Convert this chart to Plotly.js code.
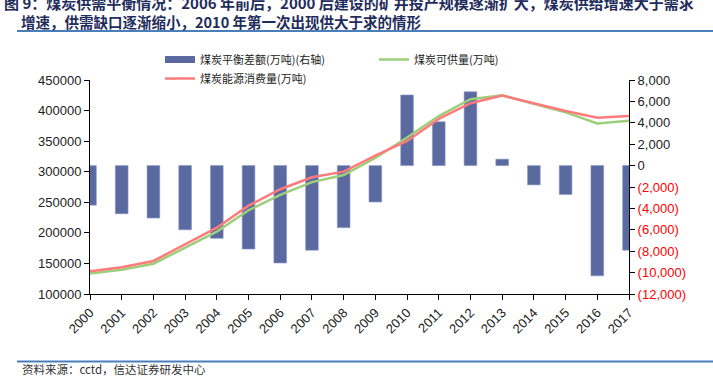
<!DOCTYPE html>
<html>
<head>
<meta charset="utf-8">
<script src="https://cdn.plot.ly/plotly-3.0.1.min.js"></script>
<style>html,body{margin:0;padding:0;background:#fff;}#chart{width:713px;height:376px;}</style>
</head>
<body>
<div id="chart"></div>
<script>
// ---- data ----
const years = [2000,2001,2002,2003,2004,2005,2006,2007,2008,2009,2010,2011,2012,2013,2014,2015,2016,2017];
const balance = [-3700,-4500,-4900,-6000,-6800,-7800,-9100,-7900,-5800,-3400,6600,4100,6900,600,-1800,-2700,-10300,-7900];
const supply = [133500,139500,149500,175800,202000,237000,262200,283000,294500,322500,356000,391000,418500,425000,410500,397000,379000,383300];
const consumption = [137000,143700,154000,181300,208500,244500,271300,290900,300100,326300,350300,386300,412000,424400,412000,399400,388400,391200];
const leftTicks = [100000,150000,200000,250000,300000,350000,400000,450000];
const rightTicks = [-12000,-10000,-8000,-6000,-4000,-2000,0,2000,4000,6000,8000];
const rightTickText = ['(12,000)','(10,000)','(8,000)','(6,000)','(4,000)','(2,000)','0','2,000','4,000','6,000','8,000'];
const names = {bal:'煤炭平衡差额(万吨)(右轴)', sup:'煤炭可供量(万吨)', con:'煤炭能源消费量(万吨)'};
const titleLine1 = '图 9：煤炭供需平衡情况：2006 年前后，2000 后建设的矿井投产规模逐渐扩大，煤炭供给增速大于需求';
const titleLine2 = '增速，供需缺口逐渐缩小，2010 年第一次出现供大于求的情形';
const source = '资料来源：cctd，信达证券研发中心';

const barColor = '#5a6aa0', greenColor = '#9dcf7a', redColor = '#ff7b7b';
const FONT = 'Liberation Sans, Arial, Noto Sans CJK SC, sans-serif';
const CJK = 'Noto Sans CJK SC, sans-serif';

const W = 713, H = 376, L = 90, R = 84, T = 80, B = 82;
const pw = W - L - R, ph = H - T - B;
const px = x => (x - L) / pw;
const py = y => (H - B - y) / ph;

const rightTickLabels = rightTickText.map((t, i) => rightTicks[i] < 0 ? '<span style="color:#ff0000">' + t + '</span>' : t);

const traces = [
  {type:'bar', x:years, y:balance, yaxis:'y', width:0.4, showlegend:false, name:names.bal,
   marker:{color:barColor, line:{color:'#8a96c4', width:0.6}}},
  {type:'scatter', mode:'lines', x:[null], y:[null], yaxis:'y', name:names.bal, legend:'legend',
   line:{color:barColor, width:7}},
  {type:'scatter', mode:'lines', x:years, y:supply, yaxis:'y2', name:names.sup, legend:'legend',
   line:{color:greenColor, width:2.5}},
  {type:'scatter', mode:'lines', x:years, y:consumption, yaxis:'y2', name:names.con, legend:'legend2',
   line:{color:redColor, width:2.5}}
];

const layout = {
  width: W, height: H,
  margin:{l:L, r:R, t:T, b:B, pad:0},
  paper_bgcolor:'#fff', plot_bgcolor:'#fff',
  font:{family:FONT, size:13, color:'#222'},
  showlegend:true,
  bargap:0,
  xaxis:{range:[2000,2017], tickvals:years, ticktext:years.map(String), tickangle:-45,
    showgrid:false, zeroline:false, showline:true, linecolor:'#000', linewidth:1,
    ticks:'outside', ticklen:5, tickcolor:'#000', tickfont:{size:13, family:FONT, color:'#222'}},
  yaxis:{side:'right', range:[-12000,8000], tickvals:rightTicks, ticktext:rightTickLabels,
    showgrid:false, zeroline:false, showline:true, linecolor:'#000', linewidth:1,
    ticks:'outside', ticklen:5, tickcolor:'#000', tickfont:{size:13, family:FONT, color:'#222'}},
  yaxis2:{side:'left', overlaying:'y', range:[100000,450000], tickvals:leftTicks,
    ticktext:leftTicks.map(String),
    showgrid:false, zeroline:false, showline:true, linecolor:'#000', linewidth:1,
    ticks:'outside', ticklen:5, tickcolor:'#000', tickfont:{size:13, family:FONT, color:'#222'}},
  legend:{orientation:'h', x:px(160), xanchor:'left', y:py(45), yanchor:'top',
    font:{family:CJK, size:11, color:'#222'}, entrywidth:169, bgcolor:'rgba(0,0,0,0)', itemclick:false},
  legend2:{orientation:'h', x:px(160), xanchor:'left', y:py(64), yanchor:'top',
    font:{family:CJK, size:11, color:'#222'}, bgcolor:'rgba(0,0,0,0)', itemclick:false},
  annotations:[
    {text:'<b>'+titleLine1+'</b>', xref:'paper', yref:'paper', x:px(2), y:py(3), xanchor:'left', yanchor:'middle',
     showarrow:false, font:{family:CJK, size:15, color:'#1f2d5c'}},
    {text:'<b>'+titleLine2+'</b>', xref:'paper', yref:'paper', x:px(19), y:py(21), xanchor:'left', yanchor:'middle',
     showarrow:false, font:{family:CJK, size:14.5, color:'#1f2d5c'}},
    {text:source, xref:'paper', yref:'paper', x:px(20), y:py(369), xanchor:'left', yanchor:'middle',
     showarrow:false, font:{family:CJK, size:11.5, color:'#333'}}
  ],
  shapes:[
    {type:'line', xref:'paper', yref:'paper', x0:px(17), x1:px(713), y0:py(31), y1:py(31), line:{color:'#4a7ebb', width:2}},
    {type:'line', xref:'paper', yref:'paper', x0:px(17), x1:px(713), y0:py(361.5), y1:py(361.5), line:{color:'#4a7ebb', width:2}}
  ]
};

Plotly.newPlot('chart', traces, layout, {displayModeBar:false, staticPlot:true});
</script>
</body>
</html>
